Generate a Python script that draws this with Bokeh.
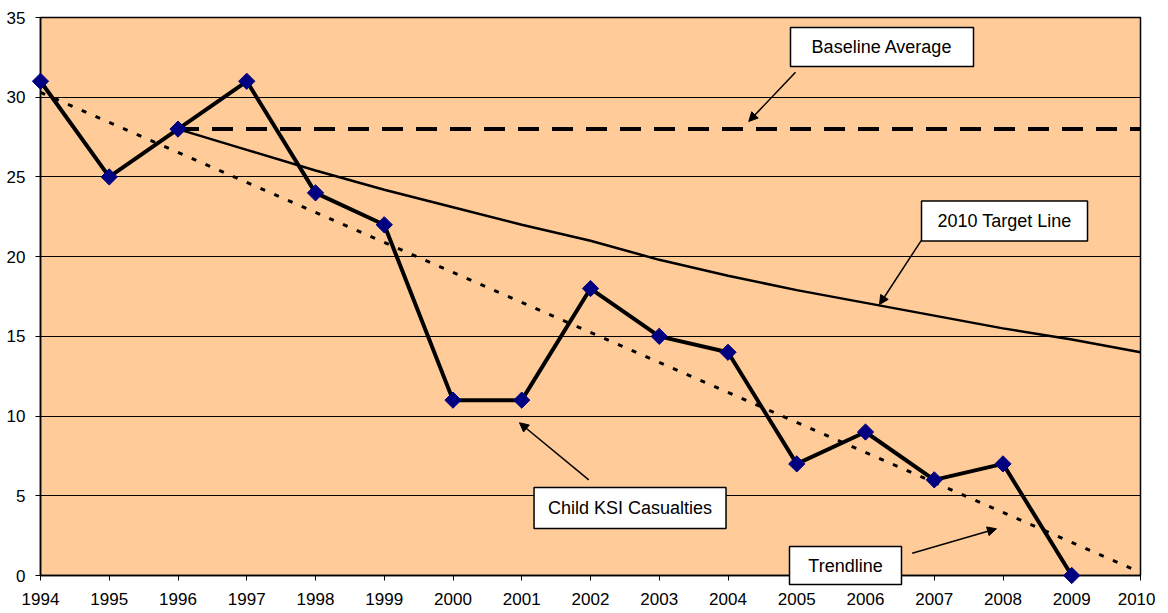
import math
from bokeh.plotting import figure
from bokeh.models import FixedTicker, Arrow, NormalHead
from bokeh.core.properties import value
from bokeh.embed import file_html
from bokeh.resources import INLINE

# ---- data ----
years = [1994, 1995, 1996, 1997, 1998, 1999, 2000, 2001, 2002, 2003, 2004, 2005, 2006, 2007, 2008, 2009]
ksi = [31, 25, 28, 31, 24, 22, 11, 11, 18, 15, 14, 7, 9, 6, 7, 0]

target_years = [1996, 1997, 1998, 1999, 2000, 2001, 2002, 2003, 2004, 2005, 2006, 2007, 2008, 2009, 2010]
target = [28.0, 26.7, 25.4, 24.2, 23.1, 22.0, 21.0, 19.8, 18.8, 17.9, 17.1, 16.3, 15.5, 14.8, 14.0]

baseline_years = [1996, 2010]
baseline = [28, 28]

trend_years = [1994, 2010]
trend = [30.3, 0.2]

x_ticks = list(range(1994, 2011))
y_ticks = [0, 5, 10, 15, 20, 25, 30, 35]

label_texts = ["Baseline Average", "Child KSI Casualties", "2010 Target Line", "Trendline"]

FONT = "Liberation Sans"

p = figure(frame_width=1100, frame_height=558, x_range=(1994, 2010), y_range=(0, 35),
           output_backend="svg", toolbar_location=None,
           min_border_left=40, min_border_top=17, min_border_right=15, min_border_bottom=28)
p.background_fill_color = "#FFCC99"
p.border_fill_color = "white"
p.outline_line_color = "black"
p.outline_line_width = 1.5

p.xgrid.grid_line_color = None
p.ygrid.grid_line_color = "black"
p.ygrid.grid_line_width = 1

p.xaxis.ticker = FixedTicker(ticks=x_ticks)
p.yaxis.ticker = FixedTicker(ticks=y_ticks)
for ax in (p.xaxis[0], p.yaxis[0]):
    ax.axis_line_color = "black"
    ax.axis_line_width = 1.5
    ax.major_tick_line_color = "black"
    ax.major_tick_line_width = 1
    ax.major_tick_out = 5
    ax.major_tick_in = 0
    ax.minor_tick_line_color = None
    ax.major_label_text_font = FONT
    ax.major_label_text_font_size = "17px"
    ax.major_label_text_color = "black"
p.xaxis.major_label_standoff = 12
p.yaxis.major_label_standoff = 10

# baseline average
p.line(baseline_years, baseline, line_color="black", line_width=4, line_dash="21 13")
# trendline
p.line(trend_years, trend, line_color="black", line_width=3, line_dash="5 10")
# target line
p.line(target_years, target, line_color="black", line_width=2.5)
# data
r4 = p.line(years, ksi, line_color="black", line_width=4)
r5 = p.scatter(years, ksi, marker="square", size=11.5, angle=math.pi / 4,
               fill_color="#000080", line_color="#000080")
for r in (r4, r5):
    r.level = "overlay"

# arrows (callout pointers)
arrows = [
    (2004.982, 31.57, 2004.302, 28.48),
    (2001.975, 6.00, 2000.967, 9.58),
    (2006.810, 21.01, 2006.204, 17.00),
    (2006.679, 1.40, 2007.905, 2.93),
]
for xs, ys, xe, ye in arrows:
    p.add_layout(Arrow(x_start=xs, y_start=ys, x_end=xe, y_end=ye,
                       line_color="black", line_width=1.5, level="overlay",
                       end=NormalHead(size=9, fill_color="black", line_color="black")))

# callout boxes
box_x = [2006.240, 2002.575, 2008.022, 2005.709]
box_y = [33.15, 4.234, 22.24, 0.627]
box_w = [183, 192, 166, 112]
box_h = [39, 41, 40, 38]
rb = p.rect(x=box_x, y=box_y, width=box_w, height=box_h, width_units="screen", height_units="screen",
            fill_color="white", line_color="black", line_width=1.5)
rt = p.text(x=box_x, y=box_y, text=label_texts, text_align="center", text_baseline="middle",
            text_font=value(FONT), text_font_size="18px", text_color="black")
rb.level = "overlay"
rt.level = "overlay"

open("out.html", "w").write(file_html(p, INLINE))
